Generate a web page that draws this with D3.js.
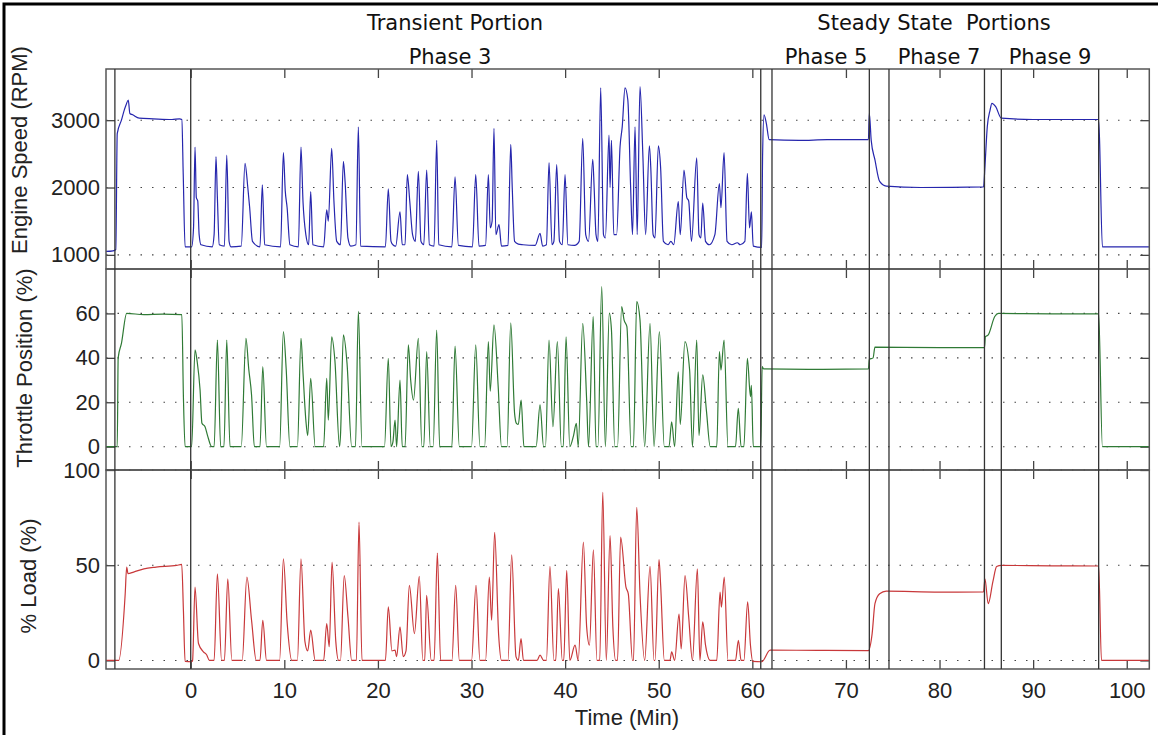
<!DOCTYPE html>
<html>
<head>
<meta charset="utf-8">
<script src="https://cdn.jsdelivr.net/npm/d3@7"></script>
<style>
  body { margin: 0; background: #fff; }
  svg { display: block; }
</style>
</head>
<body>
<script>
const width = 1158;
const height = 735;

// readings taken off the original figure: [time (min), value]
const engineSpeed = [
	[-9.1, 1050], [-8.3, 1060], [-8.0, 1080], [-7.85, 2800], [-7.4, 3000], [-7.1, 3150], [-6.9, 3230], [-6.67, 3300],
	[-6.5, 3100], [-6.2, 3080], [-5.5, 3030], [-4, 3020], [-2, 3010], [-1.2, 3020], [-0.95, 3010], [-0.8, 2200],
	[-0.6, 1120], [0.1, 1120], [0.3, 1400], [0.46, 2600], [0.6, 1850], [0.75, 1800], [0.9, 1300], [1.1, 1150],
	[2.3, 1120], [2.5, 1300], [2.7, 2460], [2.85, 1850], [3.05, 1150], [3.6, 1130], [3.85, 2480], [4.1, 1200],
	[4.3, 1120], [5.4, 1130], [5.8, 2360], [6.1, 2000], [6.3, 1700], [6.6, 1200], [7.4, 1120], [7.65, 2040],
	[7.9, 1150], [9.6, 1120], [9.9, 2520], [10.1, 1950], [10.3, 1700], [10.6, 1150], [11.5, 1120], [11.78, 2600],
	[12.0, 1780], [12.3, 1300], [12.6, 1150], [12.82, 1940], [13.05, 1150], [14.2, 1120], [14.53, 1670], [14.7, 1500],
	[15.06, 2580], [15.3, 1800], [15.6, 1200], [16.0, 1150], [16.31, 2390], [16.5, 2070], [16.8, 1250], [17.1, 1130],
	[17.65, 1150], [17.91, 2900], [18.15, 1130], [20.8, 1120], [21.11, 1980], [21.4, 1200], [21.6, 1150], [21.9, 1130],
	[22.36, 1640], [22.6, 1150], [22.9, 1150], [23.14, 2190], [23.4, 1800], [23.7, 1300], [24.0, 1200], [24.32, 2240],
	[24.6, 1200], [24.9, 1150], [25.21, 2260], [25.5, 1150], [26.0, 1130], [26.28, 2700], [26.5, 1150], [27.9, 1120],
	[28.24, 2160], [28.6, 1140], [30.1, 1120], [30.45, 2190], [30.8, 1130], [31.5, 1140], [31.8, 2190], [32.0, 1400],
	[32.2, 1500], [32.4, 2880], [32.6, 1300], [32.94, 1450], [33.2, 1130], [33.9, 1140], [34.19, 2640], [34.35, 2000],
	[34.6, 1200], [35.0, 1160], [35.5, 1150], [36.8, 1140], [37.32, 1320], [37.6, 1130], [38.0, 1150], [38.28, 2370],
	[38.6, 1150], [38.8, 1200], [39.1, 2340], [39.4, 1200], [39.7, 1150], [39.99, 2190], [40.3, 1150], [41.0, 1140],
	[41.5, 1200], [41.88, 2730], [42.2, 1300], [42.5, 1200], [42.95, 2420], [43.1, 2000], [43.3, 1300], [43.5, 1200],
	[43.8, 3480], [44.1, 1300], [44.3, 1250], [44.69, 2780], [44.8, 2000], [44.95, 2700], [45.2, 1300], [45.5, 1300],
	[45.87, 2610], [46.1, 2900], [46.4, 3480], [46.7, 3300], [47.0, 2000], [47.2, 1300], [47.47, 2900], [47.7, 1300],
	[48.0, 3500], [48.3, 2500], [48.6, 1300], [49.0, 2620], [49.15, 2300], [49.4, 1300], [49.6, 1250], [49.96, 2620],
	[50.2, 2300], [50.5, 1200], [51.0, 1150], [51.3, 1200], [51.6, 1150], [52.09, 1790], [52.3, 1300], [52.7, 2260],
	[53.0, 1850], [53.2, 1800], [53.5, 1200], [54.06, 2440], [54.3, 1300], [54.5, 1250], [54.7, 1770], [55.0, 1200],
	[55.4, 1150], [56.0, 1300], [56.48, 2060], [56.65, 1700], [56.98, 2520], [57.3, 1200], [57.8, 1150], [58.4, 1180],
	[58.7, 1150], [59.2, 1200], [59.47, 2210], [59.7, 1400], [59.9, 1640], [60.1, 1130], [61.0, 1110], [61.1, 2500],
	[61.25, 3080], [61.5, 2950], [61.8, 2710], [65, 2700], [68, 2710], [72.4, 2710], [72.5, 3100], [72.7, 2700],
	[73.1, 2410], [73.6, 2090], [74.3, 2020], [78, 2000], [84.7, 2010], [84.85, 2310], [85.1, 2900], [85.4, 3150],
	[85.6, 3250], [86.0, 3200], [86.6, 3030], [90, 3010], [96.97, 3010], [97.07, 2800], [97.4, 1120], [102.5, 1120]
];

const throttle = [
	[-9.1, 0], [-7.85, 0], [-7.75, 40], [-7.4, 46.5], [-6.84, 60], [-5, 59.5], [-3, 59.7], [-0.95, 59.5],
	[-0.78, 22.5], [-0.6, 0], [0.1, 0], [0.46, 43.6], [0.7, 38], [1.0, 25.5], [1.2, 10.5], [1.53, 9], [1.8, 5],
	[2.24, 0], [2.5, 0], [2.85, 48], [3.2, 0], [3.55, 0], [3.85, 48], [4.2, 0], [5.4, 0], [5.9, 48.8], [6.2, 35],
	[6.5, 23.3], [6.8, 0], [7.4, 0], [7.7, 36], [8.1, 0], [9.5, 0], [9.9, 51.8], [10.2, 35], [10.6, 0], [11.4, 0],
	[11.78, 48.8], [12.0, 33], [12.3, 12], [12.5, 5], [12.82, 30.8], [13.3, 0], [14.2, 0], [14.53, 30.8], [14.7, 12],
	[15.06, 49.5], [15.4, 39], [15.9, 0], [16.0, 5], [16.31, 50.3], [16.7, 37.5], [17.2, 0], [17.6, 0], [17.91, 60.9],
	[18.3, 0], [20.7, 0], [21.11, 39.8], [21.4, 0], [21.6, 2], [21.83, 12], [22.0, 0], [22.36, 30], [22.6, 0],
	[22.9, 0], [23.25, 45.8], [23.5, 30], [23.8, 21], [24.32, 48.8], [24.7, 0], [24.9, 0], [25.21, 42.8], [25.6, 0],
	[25.9, 0], [26.28, 52.5], [26.6, 0], [27.9, 0], [28.24, 45.3], [28.7, 0], [30.0, 0], [30.45, 45.8], [30.9, 0],
	[31.4, 0], [31.8, 47.3], [32.0, 25], [32.4, 54.8], [32.85, 27], [33.2, 0], [33.8, 0], [34.19, 55.8], [34.6, 15],
	[34.8, 10.5], [35.0, 10], [35.3, 21], [35.6, 0], [36.9, 0], [37.32, 18.8], [37.7, 0], [37.9, 0], [38.28, 48],
	[38.7, 9], [39.17, 47.3], [39.6, 0], [39.8, 0], [40.1, 49.5], [40.5, 0], [40.9, 5], [41.2, 10.5], [41.4, 0],
	[41.88, 55.5], [42.3, 21], [42.5, 0], [43.0, 58.6], [43.3, 0], [43.5, 0], [43.91, 72.1], [44.3, 0], [44.72, 60.1],
	[44.95, 52.5], [45.3, 0], [45.6, 0], [46.04, 63.1], [46.3, 57], [46.6, 54], [47.05, 0], [47.3, 0], [47.65, 65.3],
	[48.0, 57], [48.5, 0], [49.07, 55.5], [49.5, 0], [50.07, 51.8], [50.6, 0], [51.1, 0], [51.38, 11.2], [51.7, 0],
	[52.09, 33.7], [52.3, 10], [52.8, 47.3], [53.3, 34.5], [53.6, 0], [54.06, 48], [54.3, 5], [54.7, 32.3], [55.1, 16],
	[55.5, 0], [56.2, 0], [56.48, 42.8], [56.65, 34.5], [56.98, 48], [57.4, 0], [58.2, 0], [58.5, 17.3], [58.8, 0],
	[59.1, 0], [59.47, 39.8], [59.8, 22.5], [59.9, 27.6], [60.1, 0], [60.9, 0], [61.05, 36], [61.2, 35], [66, 34.8],
	[72.4, 35], [72.5, 39.3], [72.9, 40], [73.1, 44.8], [80, 44.6], [84.8, 44.6], [84.9, 49.5], [85.2, 50.3],
	[85.9, 58.6], [86.3, 60], [92, 59.8], [97.0, 59.8], [97.4, 0], [102.5, 0]
];

const load = [
	[-9.1, 0], [-7.7, 0], [-7.0, 34.9], [-6.84, 49], [-6.7, 45.6], [-6.1, 46.4], [-5.0, 48.1], [-3.7, 49],
	[-1.5, 49.9], [-0.96, 50.4], [-0.78, 26.3], [-0.6, -0.5], [0.1, -0.7], [0.2, 0], [0.46, 38.5], [0.83, 8.9],
	[1.36, 4.5], [1.7, 3], [2.0, 0], [2.5, 0], [2.85, 45.5], [3.3, 0], [3.6, 0], [3.96, 42.9], [4.4, 0], [5.5, 0],
	[6.0, 43.8], [6.5, 21.1], [7.0, 0], [7.4, 0], [7.7, 21.1], [8.1, 0], [9.5, 0], [9.9, 53.4], [10.3, 20], [10.8, 0],
	[11.4, 0], [11.78, 53.4], [12.2, 10], [12.5, 5], [12.82, 15.9], [13.3, 0], [14.2, 0], [14.53, 19.4], [14.8, 7.2],
	[15.1, 51.6], [15.5, 10], [15.8, 0], [16.0, 0], [16.4, 44.6], [16.8, 22.9], [17.2, 0], [17.7, 0], [17.98, 72.6],
	[18.3, 0], [20.8, 0], [21.11, 28.1], [21.5, 5], [21.83, 5.4], [22.0, 2], [22.36, 17.6], [22.7, 2], [23.0, 5],
	[23.36, 39.4], [23.9, 14.1], [24.42, 44.1], [24.8, 0], [25.0, 0], [25.2, 34.2], [25.7, 0], [26.0, 0], [26.35, 56.4],
	[26.7, 0], [27.9, 0], [28.31, 39.4], [28.7, 0], [30.0, 0], [30.48, 39.4], [30.9, 0], [31.5, 0], [31.9, 43.8],
	[32.15, 21.1], [32.47, 67.3], [32.9, 13.2], [33.2, 0], [33.9, 0], [34.29, 55.5], [34.75, 2], [35.0, 0],
	[35.29, 11.5], [35.55, 0], [37.0, 0], [37.32, 2.8], [37.7, 0], [38.0, 0], [38.38, 49.4], [38.8, 0], [39.0, 0],
	[39.28, 37.7], [39.7, 0], [39.85, 0], [40.17, 47.3], [40.5, 0], [41.06, 8.0], [41.4, 0], [41.95, 62.1],
	[42.3, 17.6], [42.6, 8], [43.02, 58.1], [43.4, 0], [43.7, 0], [44.02, 88.3], [44.4, 0], [44.8, 65.6], [45.1, 17.6],
	[45.4, 0], [45.6, 0], [45.93, 64.7], [46.5, 38.5], [46.75, 35], [47.2, 0], [47.3, 0], [47.65, 80.4], [48.0, 35],
	[48.5, 0], [49.07, 49.4], [49.5, 0], [49.6, 0], [50.03, 52.9], [50.2, 40], [50.6, 0], [51.2, 0], [51.38, 4.5],
	[51.7, 0], [52.17, 24.3], [52.4, 6], [52.81, 44.6], [53.2, 22.9], [53.6, 0], [54.13, 48.1], [54.4, 0], [54.7, 20.2],
	[55.0, 8], [55.5, 0], [56.2, 0], [56.55, 35.9], [56.7, 28], [57.0, 43.8], [57.4, 0], [58.2, 0], [58.51, 10.6],
	[58.8, 0], [59.1, 0], [59.5, 30.8], [59.8, 8], [60.05, -0.5], [61.0, -0.7], [61.9, 5.4], [67, 5.3], [72.4, 5.2],
	[72.8, 14.1], [73.1, 29.8], [73.6, 35], [74.3, 36.4], [80, 35.9], [84.7, 36], [84.85, 42.9], [85.2, 29.8],
	[85.7, 41.4], [86.1, 49.3], [86.6, 49.9], [92, 49.7], [97.0, 49.6], [97.3, 0], [102.5, 0]
];

// phase boundaries (min)
const phaseLines = [-8.1, 0, 60.9, 62.1, 72.5, 74.6, 84.8, 86.6, 97.0];
const timeTicks = [0, 10, 20, 30, 40, 50, 60, 70, 80, 90, 100];
const speedTicks = [1000, 2000, 3000];
const throttleTicks = [0, 20, 40, 60];
const loadTicks = [0, 50, 100];

const left = 106, right = 1149.3;

const x = d3.scaleLinear()
	.domain([-9.05, 102.41])
	.range([left, right]);

const panels = [
	{data: engineSpeed, ticks: speedTicks, label: "Engine Speed (RPM)", color: "#2626ad",
		y: d3.scaleLinear().domain([790, 3760]).range([269, 69]), labelX: 27, labelY: 150},
	{data: throttle, ticks: throttleTicks, label: "Throttle Position (%)", color: "#2f7a35",
		y: d3.scaleLinear().domain([-10.5, 80]).range([470, 269]), labelX: 32, labelY: 368},
	{data: load, ticks: loadTicks, label: "% Load (%)", color: "#c8383a",
		y: d3.scaleLinear().domain([-4.5, 100]).range([669, 470]), labelX: 36, labelY: 576}
];

const svg = d3.select("body")
	.append("svg")
	.attr("width", width)
	.attr("height", height)
	.style("font-family", "'Liberation Sans', Arial, sans-serif");

// outer frame of the picture
svg.append("rect")
	.attr("x", 4).attr("y", 4)
	.attr("width", 1300).attr("height", 900)
	.attr("fill", "none")
	.attr("stroke", "#000")
	.attr("stroke-width", 3);

panels.forEach((p, i) => {
	const top = p.y.range()[1], bottom = p.y.range()[0];
	const g = svg.append("g");

	// dotted grid
	g.selectAll(".grid")
		.data(p.ticks)
		.enter()
		.append("line")
		.attr("x1", left).attr("x2", right)
		.attr("y1", (d) => p.y(d)).attr("y2", (d) => p.y(d))
		.attr("stroke", "#444")
		.attr("stroke-width", 1.1)
		.attr("stroke-dasharray", "1.5,10");

	// inner ticks on the four sides
	const bottomAxis = g.append("g")
		.attr("transform", `translate(0,${bottom})`)
		.call(d3.axisBottom(x).tickValues(timeTicks).tickSize(-9).tickFormat(i === 2 ? d3.format("d") : ""))
		.call((a) => a.select(".domain").remove());
	bottomAxis.selectAll("text").attr("y", 13);
	g.append("g")
		.attr("transform", `translate(0,${top})`)
		.call(d3.axisTop(x).tickValues(timeTicks).tickSize(-9).tickFormat(""))
		.call((a) => a.select(".domain").remove());
	g.append("g")
		.attr("transform", `translate(${left},0)`)
		.call(d3.axisLeft(p.y).tickValues(p.ticks).tickSize(-9).tickPadding(6).tickFormat(d3.format("d")))
		.call((a) => a.select(".domain").remove());
	g.append("g")
		.attr("transform", `translate(${right},0)`)
		.call(d3.axisRight(p.y).tickValues(p.ticks).tickSize(-9).tickFormat(""))
		.call((a) => a.select(".domain").remove());

	g.selectAll(".tick line").attr("stroke", "#444").attr("stroke-width", 1.3);
	g.selectAll(".tick text")
		.attr("fill", "#222")
		.style("font-size", "22px")
		.style("font-family", "'Liberation Sans', Arial, sans-serif");

	// the trace
	g.append("clipPath")
		.attr("id", "clip" + i)
		.append("rect")
		.attr("x", left).attr("y", top)
		.attr("width", right - left).attr("height", bottom - top);

	g.append("path")
		.datum(p.data)
		.attr("clip-path", `url(#clip${i})`)
		.attr("fill", "none")
		.attr("stroke", p.color)
		.attr("stroke-width", 1.2)
		.attr("stroke-linejoin", "round")
		.attr("d", d3.line().curve(d3.curveMonotoneX).x((d) => x(d[0])).y((d) => p.y(d[1])));

	// panel box
	g.append("rect")
		.attr("x", left).attr("y", top)
		.attr("width", right - left).attr("height", bottom - top)
		.attr("fill", "none")
		.attr("stroke", "#555")
		.attr("stroke-width", 1.5);

	svg.append("text")
		.attr("transform", `translate(${p.labelX},${p.labelY}) rotate(-90)`)
		.attr("text-anchor", "middle")
		.attr("fill", "#222")
		.style("font-size", "22px")
		.text(p.label);
});

// phase separators
svg.selectAll(".phase")
	.data(phaseLines)
	.enter()
	.append("line")
	.attr("x1", (d) => x(d)).attr("x2", (d) => x(d))
	.attr("y1", 69).attr("y2", 669)
	.attr("stroke", "#333")
	.attr("stroke-width", 1.3);

svg.append("text")
	.attr("x", 627).attr("y", 725)
	.attr("text-anchor", "middle")
	.attr("fill", "#222")
	.style("font-size", "22px")
	.text("Time (Min)");

// headings
const headings = [
	{text: "Transient Portion", x: 455, y: 30},
	{text: "Phase 3", x: 450, y: 64},
	{text: "Steady State  Portions", x: 934, y: 30},
	{text: "Phase 5", x: 826, y: 64},
	{text: "Phase 7", x: 939, y: 64},
	{text: "Phase 9", x: 1050, y: 64}
];
svg.selectAll(".heading")
	.data(headings)
	.enter()
	.append("text")
	.attr("x", (d) => d.x).attr("y", (d) => d.y)
	.attr("text-anchor", "middle")
	.attr("fill", "#111")
	.style("font-family", "'DejaVu Sans', sans-serif")
	.style("font-size", "21px")
	.style("white-space", "pre")
	.text((d) => d.text);
</script>
</body>
</html>
